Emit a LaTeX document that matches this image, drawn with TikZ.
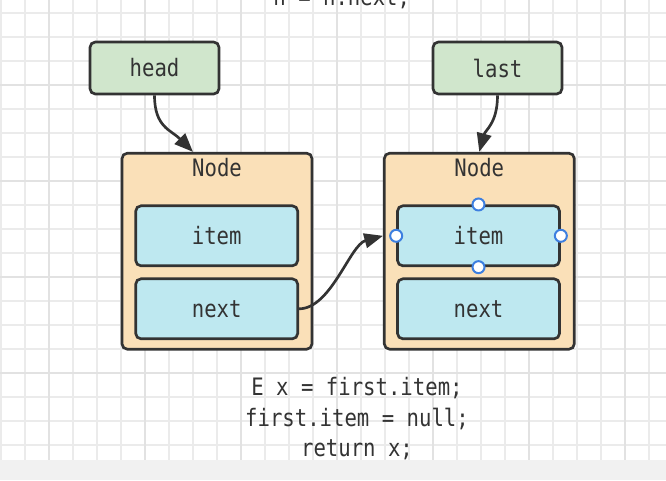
\documentclass[tikz,border=0pt]{standalone}
\usepackage{fontspec}
\newfontfamily\handfont[FakeStretch=0.86]{DejaVu Sans Mono}
\usetikzlibrary{arrows.meta,calc}
\definecolor{ink}{HTML}{333333}
\definecolor{gridminor}{HTML}{EBEBEB}
\definecolor{gridmajor}{HTML}{E2E2E2}
\definecolor{band}{HTML}{F1F1F1}
\definecolor{greenfill}{HTML}{D0E6CC}
\definecolor{orangefill}{HTML}{FAE0B8}
\definecolor{bluefill}{HTML}{BEE8F0}
\definecolor{handle}{HTML}{3D7FE0}
\begin{document}
\begin{tikzpicture}[x=0.75pt,y=-0.75pt,
  every node/.style={font=\handfont\fontsize{18pt}{22pt}\selectfont, text=ink},
  box/.style={draw=ink, line width=2pt, rounded corners=4pt, inner sep=0pt},
  ptr/.style={box, fill=greenfill, minimum width=96.75pt, minimum height=39pt},
  outerbox/.style={box, fill=orangefill, minimum width=142.5pt, minimum height=147pt},
  field/.style={box, fill=bluefill, minimum width=121.5pt, minimum height=45pt},
  link/.style={draw=ink, line width=2pt, -{Triangle[length=14pt,width=11pt]}},
  grip/.style={circle, draw=handle, fill=white, line width=1.5pt, minimum size=9pt, inner sep=0pt},
  txt/.style={anchor=base, inner sep=0pt}
]
\fill[white] (0,0) rectangle (666,480);
\useasboundingbox (0,0) rectangle (666,480);
% grid
\foreach \x in {1,25,...,649} \draw[gridminor, line width=0.9pt] (\x,0) -- (\x,460);
\foreach \y in {13,37,...,445} \draw[gridminor, line width=0.9pt] (0,\y) -- (666,\y);
\foreach \x in {49,145,...,625} \draw[gridmajor, line width=1.6pt] (\x,0) -- (\x,460);
\foreach \y in {85,181,277,373} \draw[gridmajor, line width=1.6pt] (0,\y) -- (666,\y);

% top partial text (cut by the upper edge, as in the reference)
\node[txt] (c0) at (341.75,5) {n = n.next;};

% pointer boxes
\node[ptr] (head) at (154.5,68) {head};
\node[ptr] (last) at (497.5,68) {last};

% list nodes
\node[outerbox] (n1) at (217,251.2) {};
\node[outerbox] (n2) at (479.3,251.2) {};
\node[txt] (n1t) at (217,176.7) {Node};
\node[txt] (n2t) at (479.3,176.7) {Node};
\node[field] (i1) at (216.7,235.8) {item};
\node[field] (x1) at (216.7,308.8) {next};
\node[field] (i2) at (478.5,235.8) {item};
\node[field] (x2) at (478.5,308.8) {next};

% connectors
\coordinate (h1) at ($(n1.north)+(-24,0)$);
\draw[link] (head.south) .. controls ($(head.south)+(0,32)$) and ($(h1)+(-22,-22)$) .. (h1);
\draw[link] (last.south) .. controls ($(last.south)+(0,28)$) and ($(n2.north)+(6,-22)$) .. (n2.north);
\coordinate (e2) at (n2.west |- i2.west);
\draw[link] (x1.east) .. controls ($(x1.east)+(32,0)$) and ($(e2)+(-33,9)$) .. (e2);

% selection handles
\node[grip] (g1) at (i2.north) {};
\node[grip] (g2) at (i2.south) {};
\node[grip] (g3) at (i2.west) {};
\node[grip] (g4) at (i2.east) {};

% code text
\node[txt] (c1) at (357,395) {E x = first.item;};
\node[txt] (c2) at (357,426.7) {first.item = null;};
\node[txt] (c3) at (357,456) {return x;};

% bottom band
\fill[band] (0,460) rectangle (666,480);
\end{tikzpicture}
\end{document}
